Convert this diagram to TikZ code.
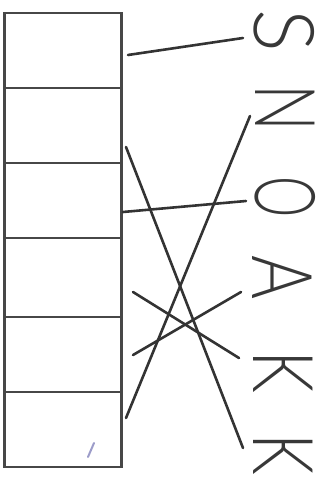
\documentclass[tikz,border=0pt]{standalone}
\usepackage{fontspec}
\IfFontExistsTF{Lato Light}{\newfontfamily\handf{Lato Light}}{%
  \IfFontExistsTF{Fira Sans Light}{\newfontfamily\handf{Fira Sans Light}}{%
    \newfontfamily\handf{Lato}}}
\begin{document}
\begin{tikzpicture}[x=1pt,y=-1pt,
  ink/.style={draw=black!80,line width=2.6pt,line cap=round},
  cellbox/.style={draw=black!72,line width=2.5pt,minimum width=117pt,inner sep=0pt},
  letter/.style={rotate=-90,inner sep=0pt,text=black!78,font=\handf\fontsize{84}{84}\selectfont}]
\useasboundingbox (0,0) rectangle (325,481);
% cells
\node[cellbox,minimum height=75pt] (c1) at (63,50.5) {};
\node[cellbox,minimum height=75pt] (c2) at (63,125.5) {};
\node[cellbox,minimum height=75pt] (c3) at (63,200.5) {};
\node[cellbox,minimum height=79pt] (c4) at (63,277.5) {};
\node[cellbox,minimum height=75pt] (c5) at (63,354.5) {};
\node[cellbox,minimum height=75pt] (c6) at (63,429.5) {};
% letters
\node[letter] (S) at (284,31) {\scalebox{0.95}[1]{S}};
\node[letter] (N) at (285,108) {\scalebox{0.74}[1]{N}};
\node[letter] (O) at (285,197) {\scalebox{0.62}[1]{O}};
\node[letter] (A) at (282,278) {\scalebox{0.8}[1]{A}};
\node[letter] (K1) at (283,372) {\scalebox{0.8}[1]{K}};
\node[letter] (K2) at (283,454) {\scalebox{0.78}[1]{K}};
% line ends
\coordinate (sS) at (243,38);  \coordinate (eS) at (128,55);
\coordinate (sN) at (250,116); \coordinate (eN) at (126,418);
\coordinate (sO) at (246,201); \coordinate (eO) at (123,212);
\coordinate (sA) at (241,292); \coordinate (eA) at (133,355);
\coordinate (sK1) at (239,358); \coordinate (eK1) at (133,292);
\coordinate (sK2) at (243,448); \coordinate (eK2) at (126,147);
\draw[ink] (sS) -- (eS);
\draw[ink] (sN) -- (eN);
\draw[ink] (sO) -- (eO);
\draw[ink] (sA) -- (eA);
\draw[ink] (sK1) -- (eK1);
\draw[ink] (sK2) -- (eK2);
% small pen mark
\coordinate (m1) at (88,457); \coordinate (m2) at (94,443);
\draw[draw=blue!30!gray!60,line width=2pt,line cap=round] (m1) -- (m2);
\end{tikzpicture}
\end{document}
